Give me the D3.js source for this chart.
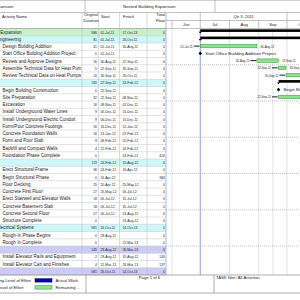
<!DOCTYPE html>
<html>
<head>
<meta charset="utf-8">
<script src="https://cdn.jsdelivr.net/npm/d3@7"></script>
<style>
  html, body { margin: 0; padding: 0; background: #fff; }
  svg { display: block; font-family: "Liberation Sans", Arial, sans-serif; }
</style>
</head>
<body>
<svg id="chart" width="300" height="300"></svg>
<script>
// schedule rows, top to bottom
const activityNames = [
  "Expansion", "Engineering", "Design Building Addition",
  "Start Office Building Addition Project", "Review and Approve Designs",
  "Assemble Technical Data for Heat Pumps", "Review Technical Data on Heat Pumps",
  "", "Begin Building Construction", "Site Preparation", "Excavation",
  "Install Underground Water Lines", "Install Underground Electric Conduit",
  "Form/Pour Concrete Footings", "Concrete Foundation Walls", "Form and Pour Slab",
  "Backfill and Compact Walls", "Foundation Phase Complete", "",
  "Erect Structural Frame", "Begin Structural Phase", "Floor Decking",
  "Concrete First Floor", "Erect Stairwell and Elevator Walls",
  "Concrete Basement Slab", "Concrete Second Floor", "Structure Complete",
  "Electrical Systems", "Rough-In Phase Begins", "Rough In Complete", "",
  "Install Elevator Rails and Equipment", "Install Elevator Cab and Finishes", ""
];
const rowKinds = [
  "wbs1", "wbs2", "task", "ms", "task", "task", "task",
  "wbs2", "ms", "task", "task", "task", "task", "task", "task", "task", "task", "ms",
  "wbs2", "task", "ms", "task", "task", "task", "task", "task", "ms",
  "wbs2", "ms", "ms", "wbs3", "task", "task", "wbs3"
];
const durations = [586, 81, 41, 0, 16, 5, 10, 180, 0, 32, 16, 9, 9, 16, 16, 9, 4, 0,
  119, 36, 0, 25, 27, 18, 18, 27, 0, 581, 0, 0, 145, 2, 4, 581];
const startDates = [
  "01-Jul-11", "01-Jul-11", "01-Jul-11", "01-Jul-11", "30-Aug-11", "22-Sep-11", "30-Sep-11",
  "22-Sep-11", "22-Sep-11", "22-Sep-11", "08-Nov-11", "05-Dec-11", "06-Dec-11", "16-Dec-11",
  "13-Jan-12", "08-Feb-12", "21-Feb-12", "", "24-Feb-12", "24-Feb-12", "16-Apr-12",
  "20-Apr-12", "25-May-12", "05-Jul-12", "05-Jul-12", "05-Jul-12", "", "26-Oct-11",
  "29-Aug-12", "", "29-Aug-12", "29-Aug-12", "21-Mar-13", "26-Oct-11"
];
const finishDates = [
  "17-Oct-13", "26-Oct-11", "30-Aug-11", "", "22-Sep-11", "30-Sep-11", "26-Oct-11",
  "24-Feb-12", "", "08-Nov-11", "02-Dec-11", "15-Dec-11", "15-Dec-11", "12-Jan-12",
  "07-Feb-12", "20-Feb-12", "24-Feb-12", "24-Feb-12", "15-Aug-12", "16-Apr-12", "",
  "25-May-12", "05-Jul-12", "31-Jul-12", "31-Jul-12", "13-Aug-12", "13-Aug-12", "14-Oct-13",
  "", "21-Mar-13", "26-Mar-13", "31-Aug-12", "26-Mar-13", "14-Oct-13"
];
const totalFloats = [0, 0, 0, 0, 0, 0, 0, 0, 0, 0, 0, 0, 0, 0, 0, 0, 0, 420,
  0, 0, 384, 0, 0, 0, 0, 0, 0, 0, 0, 0, 0, 140, 137, 0];

const viewStart = "01-Jun-11";
const viewEnd = "01-Oct-11";
const dataDate = "01-Jul-11";
const currentDate = "16-Sep-11";

const legendLeftLabels = ["Remaining Level of Effort", "Actual Level of Effort"];
const legendLabels = ["Actual Work", "Remaining ..."];
const legendColors = ["#0000b4", "#8ee28e"];

const parseDate = d3.timeParse("%d-%b-%y");
const svg = d3.select("#chart");

const rows = activityNames.map((name, i) => ({
  i: i,
  name: name,
  kind: rowKinds[i],
  dur: durations[i],
  start: startDates[i],
  finish: finishDates[i],
  tf: totalFloats[i],
  s: startDates[i] ? parseDate(startDates[i]) : null,
  f: finishDates[i] ? parseDate(finishDates[i]) : null,
}));

const W = 300;
const titleBottom = 12.5;
const headTop = titleBottom;
const bodyTop = 28.5;
const bodyBottom = 275;
const ganttLeft = 166;
const fs = 4.4;
const nameFs = 4.55;
const dateSx = 0.77;
const barSx = 0.68;
const lineCol = "#c4c4c4";

const y = d3.scaleBand().domain(d3.range(rows.length)).range([bodyTop, bodyBottom]);
const rh = y.bandwidth();
const mid = (i) => y(i) + rh / 2;
const base = (i) => mid(i) + 1.6;

const x = d3
  .scaleTime()
  .domain([parseDate(viewStart), parseDate(viewEnd)])
  .range([172, 287]);
const inView = (px) => px > ganttLeft && px < W;

const defs = svg.append("defs");
defs.append("clipPath").attr("id", "clip-name")
  .append("rect").attr("x", 0).attr("y", 0).attr("width", 81.5).attr("height", 300);
defs.append("clipPath").attr("id", "clip-gantt")
  .append("rect").attr("x", ganttLeft).attr("y", 0).attr("width", W - ganttLeft).attr("height", bodyBottom);

// drop whole tokens (split after hyphens) until the text fits the cell
const fitTokens = (t, str, maxW, sx) => {
  const parts = str.match(/[^-\s]+[-\s]?|[-\s]/g) || [];
  let n = parts.length;
  t.text(parts.join(""));
  while (n > 0 && t.node().getComputedTextLength() * sx > maxW) {
    n -= 1;
    t.text(parts.slice(0, n).join(""));
  }
};

// ---- table ----
const kindFill = { wbs1: "#c9f1c9", wbs2: "#cef7f7", wbs3: "#cbcbf3" };
const table = svg.append("g").attr("class", "table");

table
  .selectAll(".row-bg")
  .data(rows.filter((d) => kindFill[d.kind]))
  .join("rect")
  .attr("class", "row-bg")
  .attr("x", 0)
  .attr("y", (d) => y(d.i))
  .attr("width", ganttLeft)
  .attr("height", rh)
  .attr("fill", (d) => kindFill[d.kind]);

table
  .selectAll(".row-line")
  .data(d3.range(rows.length + 1))
  .join("line")
  .attr("class", "row-line")
  .attr("x1", 0)
  .attr("x2", ganttLeft)
  .attr("y1", (i) => bodyTop + i * rh)
  .attr("y2", (i) => bodyTop + i * rh)
  .attr("stroke", lineCol)
  .attr("stroke-width", 0.5);

const colEdges = [82, 98.5, 119.5, 147];
table
  .selectAll(".col-line")
  .data(colEdges)
  .join("line")
  .attr("class", "col-line")
  .attr("x1", (d) => d)
  .attr("x2", (d) => d)
  .attr("y1", headTop)
  .attr("y2", bodyBottom)
  .attr("stroke", lineCol)
  .attr("stroke-width", 0.6);

const nameX = { wbs1: 0.3, wbs2: -3.3, wbs3: 0, task: 2.5, ms: 2.5 };
table
  .append("g")
  .attr("clip-path", "url(#clip-name)")
  .selectAll(".name")
  .data(rows.filter((d) => d.name))
  .join("text")
  .attr("class", "name")
  .attr("x", (d) => nameX[d.kind])
  .attr("y", (d) => base(d.i))
  .attr("font-size", nameFs)
  .attr("fill", "#222")
  .text((d) => d.name);

const numText = (g, cls, data, xPos, anchor, getter, maxW) => {
  g.selectAll("." + cls)
    .data(data)
    .join("text")
    .attr("class", cls)
    .attr("transform", (d) => `translate(${xPos},${base(d.i)}) scale(${dateSx},1)`)
    .attr("text-anchor", anchor)
    .attr("font-size", fs)
    .attr("fill", "#222")
    .each(function (d) {
      const t = d3.select(this);
      if (maxW) fitTokens(t, getter(d), maxW, dateSx);
      else t.text(getter(d));
    });
};
numText(table, "dur", rows, 97, "end", (d) => String(d.dur));
numText(table, "start", rows.filter((d) => d.start), 100.5, "start", (d) => d.start, 18.3);
numText(table, "finish", rows.filter((d) => d.finish), 122.5, "start", (d) => d.finish, 24);
numText(table, "tf", rows, 165, "end", (d) => String(d.tf));

// ---- title + header ----
const head = svg.append("g").attr("class", "head");
[0.3, titleBottom, bodyTop].forEach((yy) => {
  head.append("line").attr("x1", 0).attr("x2", W).attr("y1", yy).attr("y2", yy)
    .attr("stroke", "#9a9a9a").attr("stroke-width", 0.6);
});
[85, 215].forEach((xx) => {
  head.append("line").attr("x1", xx).attr("x2", xx).attr("y1", 0).attr("y2", titleBottom)
    .attr("stroke", "#9a9a9a").attr("stroke-width", 0.6);
});
head.append("text").attr("x", 13.5).attr("y", 8).attr("text-anchor", "end")
  .attr("font-size", fs).attr("fill", "#222").text("Office Building Expansion");
head.append("text").attr("x", 123).attr("y", 8)
  .attr("font-size", fs).attr("fill", "#222").text("Nested Building Expansion");

const headFs = 4.1;
const headLabels = [
  { t: "Activity Name", x: 2, y: 18, a: "start" },
  { t: "Original", x: 91, y: 15.6, a: "middle" },
  { t: "Duration", x: 91, y: 21.8, a: "middle" },
  { t: "Start", x: 101, y: 18, a: "start" },
  { t: "Finish", x: 123, y: 18, a: "start" },
  { t: "Total", x: 165, y: 15.6, a: "end" },
  { t: "Float", x: 165, y: 21.8, a: "end" },
];
head
  .selectAll(".head-label")
  .data(headLabels)
  .join("text")
  .attr("class", "head-label")
  .attr("x", (d) => d.x)
  .attr("y", (d) => d.y)
  .attr("text-anchor", (d) => d.a)
  .attr("font-size", headFs)
  .attr("fill", "#222")
  .text((d) => d.t);

// ---- gantt ----
const gantt = svg.append("g").attr("clip-path", "url(#clip-gantt)");
const tierMid = 20.5;
gantt.append("line").attr("x1", ganttLeft).attr("x2", W).attr("y1", tierMid).attr("y2", tierMid)
  .attr("stroke", "#9a9a9a").attr("stroke-width", 0.6);

const scaleStart = d3.timeMonth.offset(x.domain()[0], -4);
const scaleEnd = d3.timeMonth.offset(x.domain()[1], 4);
const months = d3.timeMonth.range(scaleStart, scaleEnd);
const quarters = d3.timeMonth.every(3).range(scaleStart, scaleEnd);
const monthMid = (d) => (x(d) + x(d3.timeMonth.offset(d, 1))) / 2;
const qtrMid = (d) => (x(d) + x(d3.timeMonth.offset(d, 3))) / 2;

gantt
  .selectAll(".month-tick")
  .data(months.filter((d) => inView(x(d))))
  .join("line")
  .attr("class", "month-tick")
  .attr("x1", (d) => x(d))
  .attr("x2", (d) => x(d))
  .attr("y1", tierMid)
  .attr("y2", bodyTop)
  .attr("stroke", "#9a9a9a")
  .attr("stroke-width", 0.6);
gantt
  .selectAll(".month-label")
  .data(months.filter((d) => monthMid(d) > ganttLeft + 4 && monthMid(d) < W + 5))
  .join("text")
  .attr("class", "month-label")
  .attr("x", monthMid)
  .attr("y", 26.3)
  .attr("text-anchor", "middle")
  .attr("font-size", headFs)
  .attr("fill", "#222")
  .text(d3.timeFormat("%b"));

gantt
  .selectAll(".qtr-tick")
  .data(quarters.filter((d) => inView(x(d))))
  .join("line")
  .attr("class", "qtr-tick")
  .attr("x1", (d) => x(d))
  .attr("x2", (d) => x(d))
  .attr("y1", headTop)
  .attr("y2", tierMid)
  .attr("stroke", "#9a9a9a")
  .attr("stroke-width", 0.6);
gantt
  .selectAll(".qtr-label")
  .data(quarters.filter((d) => qtrMid(d) > ganttLeft + 15 && qtrMid(d) < W - 15))
  .join("text")
  .attr("class", "qtr-label")
  .attr("x", qtrMid)
  .attr("y", 18.3)
  .attr("text-anchor", "middle")
  .attr("font-size", headFs)
  .attr("fill", "#222")
  .text((d) => `Qtr ${Math.floor(d.getMonth() / 3) + 1}, ${d.getFullYear()}`);

// sight lines
const gridDates = months.concat([parseDate(currentDate)]).filter((d) => inView(x(d)));
gantt
  .selectAll(".vgrid")
  .data(gridDates)
  .join("line")
  .attr("class", "vgrid")
  .attr("x1", (d) => x(d))
  .attr("x2", (d) => x(d))
  .attr("y1", bodyTop)
  .attr("y2", bodyBottom)
  .attr("stroke", "#9c9c9c")
  .attr("stroke-width", 0.6)
  .attr("stroke-dasharray", "1,1");
gantt
  .selectAll(".hgrid")
  .data(d3.range(5, rows.length, 5))
  .join("line")
  .attr("class", "hgrid")
  .attr("x1", ganttLeft)
  .attr("x2", W)
  .attr("y1", (i) => y(i))
  .attr("y2", (i) => y(i))
  .attr("stroke", "#9c9c9c")
  .attr("stroke-width", 0.6)
  .attr("stroke-dasharray", "1,1");
gantt
  .append("line")
  .attr("x1", x(parseDate(dataDate)))
  .attr("x2", x(parseDate(dataDate)))
  .attr("y1", bodyTop)
  .attr("y2", bodyBottom)
  .attr("stroke", "#a4a4e0")
  .attr("stroke-width", 1);
svg
  .append("line")
  .attr("x1", ganttLeft)
  .attr("x2", ganttLeft)
  .attr("y1", headTop)
  .attr("y2", bodyBottom)
  .attr("stroke", "#9fa6cf")
  .attr("stroke-width", 0.8);

// summary bars
const summaries = rows.filter((d) => d.kind.startsWith("wbs") && x(d.s) < W);
gantt
  .selectAll(".summary")
  .data(summaries)
  .join("rect")
  .attr("class", "summary")
  .attr("x", (d) => x(d.s))
  .attr("y", (d) => mid(d.i) - 2.8)
  .attr("width", (d) => x(d.f) - x(d.s))
  .attr("height", 2.6)
  .attr("fill", "#000");
gantt
  .selectAll(".summary-cap")
  .data(summaries.flatMap((d) => [{ i: d.i, t: d.s }, { i: d.i, t: d.f }]))
  .join("path")
  .attr("class", "summary-cap")
  .attr("d", (d) => {
    const cx = x(d.t), cy = mid(d.i) - 0.4;
    return `M${cx - 1.6},${cy}L${cx + 1.6},${cy}L${cx},${cy + 1.8}Z`;
  })
  .attr("fill", "#000");

// task bars
const tasks = rows.filter((d) => d.kind === "task" && x(d.s) - 26 < W);
gantt
  .selectAll(".task")
  .data(tasks)
  .join("rect")
  .attr("class", "task")
  .attr("x", (d) => x(d.s))
  .attr("y", (d) => mid(d.i) - 2.2)
  .attr("width", (d) => x(d.f) - x(d.s))
  .attr("height", 3.4)
  .attr("fill", legendColors[1])
  .attr("stroke", "#2f8f2f")
  .attr("stroke-width", 0.5);
gantt
  .selectAll(".task-lead")
  .data(tasks)
  .join("line")
  .attr("class", "task-lead")
  .attr("x1", (d) => x(d.s) - 6.5)
  .attr("x2", (d) => x(d.s) - 0.8)
  .attr("y1", (d) => mid(d.i) - 0.5)
  .attr("y2", (d) => mid(d.i) - 0.5)
  .attr("stroke", "#000")
  .attr("stroke-width", 0.9);
gantt
  .selectAll(".task-start")
  .data(tasks)
  .join("text")
  .attr("class", "task-start")
  .attr("transform", (d) => `translate(${x(d.s) - 7.5},${mid(d.i) + 1}) scale(${barSx},1)`)
  .attr("text-anchor", "end")
  .attr("font-size", fs)
  .attr("fill", "#222")
  .text((d) => d.start);
gantt
  .selectAll(".task-finish")
  .data(tasks.filter((d) => x(d.f) + 3.5 < W))
  .join("text")
  .attr("class", "task-finish")
  .attr("transform", (d) => `translate(${x(d.f) + 3.5},${mid(d.i) + 1}) scale(${barSx},1)`)
  .attr("font-size", fs)
  .attr("fill", "#222")
  .text((d) => d.finish);

// milestones
const milestones = rows.filter((d) => d.kind === "ms" && x(d.s || d.f) < W);
gantt
  .selectAll(".ms")
  .data(milestones)
  .join("path")
  .attr("class", "ms")
  .attr("d", (d) => {
    const cx = x(d.s || d.f), cy = mid(d.i) - 0.5, r = 1.8;
    return `M${cx},${cy - r}L${cx + r},${cy}L${cx},${cy + r}L${cx - r},${cy}Z`;
  })
  .attr("fill", "#000");
gantt
  .selectAll(".ms-label")
  .data(milestones)
  .join("text")
  .attr("class", "ms-label")
  .attr("x", (d) => x(d.s || d.f) + 5)
  .attr("y", (d) => mid(d.i) + 1)
  .attr("font-size", fs)
  .attr("fill", "#222")
  .text((d) => d.name);

// ---- legend / footer ----
const foot = svg.append("g").attr("class", "footer");
const footBottom = 293;
foot.append("line").attr("x1", 0).attr("x2", W).attr("y1", bodyBottom).attr("y2", bodyBottom)
  .attr("stroke", "#8a8a8a").attr("stroke-width", 0.7);
foot.append("line").attr("x1", 0).attr("x2", W).attr("y1", footBottom).attr("y2", footBottom)
  .attr("stroke", "#8a8a8a").attr("stroke-width", 0.7);
[86, 214].forEach((xx) => {
  foot.append("line").attr("x1", xx).attr("x2", xx).attr("y1", bodyBottom).attr("y2", footBottom)
    .attr("stroke", "#8a8a8a").attr("stroke-width", 0.7);
});
const legY = [280.5, 287.5];
foot
  .selectAll(".leg-left")
  .data(legendLeftLabels)
  .join("text")
  .attr("class", "leg-left")
  .attr("x", (d, i) => [31, 23.5][i])
  .attr("y", (d, i) => legY[i] + 1.4)
  .attr("text-anchor", "end")
  .attr("font-size", 4.2)
  .attr("fill", "#222")
  .text((d) => d);
foot
  .selectAll(".leg-swatch")
  .data(legendLabels)
  .join("rect")
  .attr("class", "leg-swatch")
  .attr("x", 35)
  .attr("y", (d, i) => legY[i] - 1.8)
  .attr("width", 17)
  .attr("height", 3.4)
  .attr("fill", (d, i) => legendColors[i])
  .attr("stroke", (d, i) => (i === 0 ? "#00006a" : "#2f8f2f"))
  .attr("stroke-width", 0.5);
foot
  .selectAll(".leg-label")
  .data(legendLabels)
  .join("text")
  .attr("class", "leg-label")
  .attr("x", 55.5)
  .attr("y", (d, i) => legY[i] + 1.4)
  .attr("font-size", 4.2)
  .attr("fill", "#222")
  .text((d) => d);
foot.append("text").attr("x", 149.5).attr("y", 279.2).attr("text-anchor", "middle")
  .attr("font-size", 4.2).attr("fill", "#222").text("Page 1 of 6");
foot.append("text").attr("x", 216).attr("y", 279.2)
  .attr("font-size", 4.2).attr("fill", "#222").text("TASK filter: All Activities");
</script>
</body>
</html>
